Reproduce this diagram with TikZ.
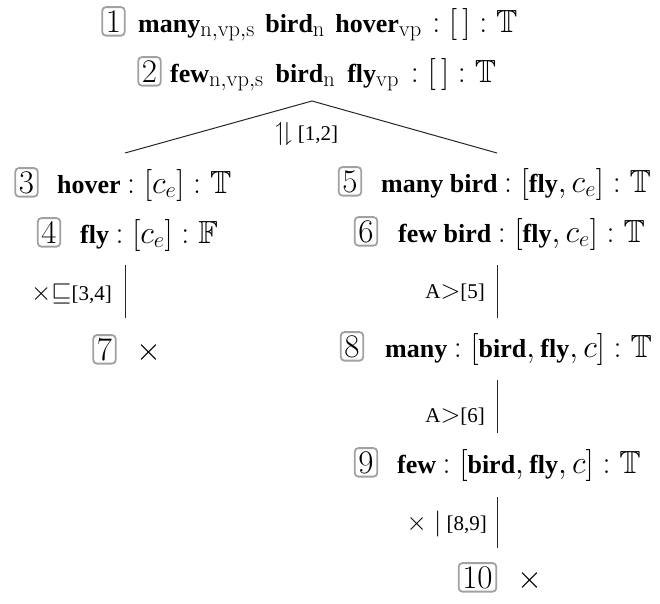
\documentclass[tikz,border=0pt]{standalone}
\usepackage{fix-cm}
\usepackage{amsmath}
\usepackage{amssymb}
\usepackage[no-math]{fontspec}
\setmainfont{Liberation Serif}
\DeclareMathSizes{26}{32}{22.4}{16}
\DeclareMathSizes{21}{26}{18}{13}
\begin{document}
\begin{tikzpicture}[x=1pt,y=-1pt,
  numbox/.style={draw=black!37, line width=1.8pt, rounded corners=3.5pt, inner sep=3.6pt, anchor=base, font=\fontsize{33}{36}\selectfont},
  entry/.style={anchor=base west, inner sep=0pt, font=\fontsize{26}{30}\selectfont},
  xmark/.style={anchor=base, inner sep=0pt, font=\fontsize{26}{30}\selectfont},
  rulelbl/.style={anchor=base east, inner sep=0pt, font=\fontsize{21}{24}\selectfont},
  edge/.style={draw=black!85, line width=1pt}]
\useasboundingbox (0,0) rectangle (660,603);
% line 1 and 2
\node[numbox] (b1) at (113.5,32) {$1$};
\node[entry] (e1) at (138,32) {\textbf{many}$_{\mathrm{n,vp,s}}$ \hspace{4pt}\textbf{bird}$_{\mathrm{n}}$ \hspace{4pt}\textbf{hover}$_{\mathrm{vp}}$ \hspace{4pt}$:[\,]:\mathbb{T}$};
\node[numbox] (b2) at (149.5,82) {$2$};
\node[entry] (e2) at (170,82) {\textbf{few}$_{\mathrm{n,vp,s}}$ \hspace{5.5pt}\textbf{bird}$_{\mathrm{n}}$ \hspace{5.5pt}\textbf{fly}$_{\mathrm{vp}}$ \hspace{5.5pt}$:[\,]:\mathbb{T}$};
% branching
\coordinate (apex) at (312,101);
\coordinate (lend) at (125,153);
\coordinate (rend) at (497,153);
\draw[edge] (lend) -- (apex) -- (rend);
\node[anchor=base west, inner sep=0pt, font=\fontsize{21}{24}\selectfont] (l12) at (275,140) {$\upharpoonleft\!\downharpoonright$ [1,2]};
% left branch
\node[numbox] (b3) at (26.5,193) {$3$};
\node[entry] (e3) at (57,193) {\textbf{hover} $:[c_e]:\mathbb{T}$};
\node[numbox] (b4) at (49,243) {$4$};
\node[entry] (e4) at (80,243) {\textbf{fly} $:[c_e]:\mathbb{F}$};
\coordinate (v1a) at (125,265);
\coordinate (v1b) at (125,318);
\draw[edge] (v1a) -- (v1b);
\node[rulelbl] (l34) at (112,300) {${\times}{\sqsubseteq}$[3,4]};
\node[numbox] (b7) at (104.5,360) {$7$};
\node[xmark] (x7) at (149,360) {$\times$};
% right branch
\node[numbox] (b5) at (350,192) {$5$};
\node[entry] (e5) at (381,192) {\textbf{many bird} $:[\textbf{fly},c_e]:\mathbb{T}$};
\node[numbox] (b6) at (366,242) {$6$};
\node[entry] (e6) at (398,242) {\textbf{few bird} $:[\textbf{fly},c_e]:\mathbb{T}$};
\coordinate (v2a) at (497,265);
\coordinate (v2b) at (497,318);
\draw[edge] (v2a) -- (v2b);
\node[rulelbl] (l5) at (485,298) {A${>}$[5]};
\node[numbox] (b8) at (352,357) {$8$};
\node[entry] (e8) at (385,357) {\textbf{many} $:[\textbf{bird},\textbf{fly},c]:\mathbb{T}$};
\coordinate (v3a) at (497,380);
\coordinate (v3b) at (497,433);
\draw[edge] (v3a) -- (v3b);
\node[rulelbl] (l6) at (485,422) {A${>}$[6]};
\node[numbox] (b9) at (366,473) {$9$};
\node[entry] (e9) at (397,473) {\textbf{few} $:[\textbf{bird},\textbf{fly},c]:\mathbb{T}$};
\coordinate (v4a) at (497,497);
\coordinate (v4b) at (497,548);
\draw[edge] (v4a) -- (v4b);
\node[rulelbl] (l89) at (487,530) {${\times}\mid$ [8,9]};
\node[numbox] (b10) at (477.5,588) {$10$};
\node[xmark] (x10) at (530,588) {$\times$};
\end{tikzpicture}
\end{document}
